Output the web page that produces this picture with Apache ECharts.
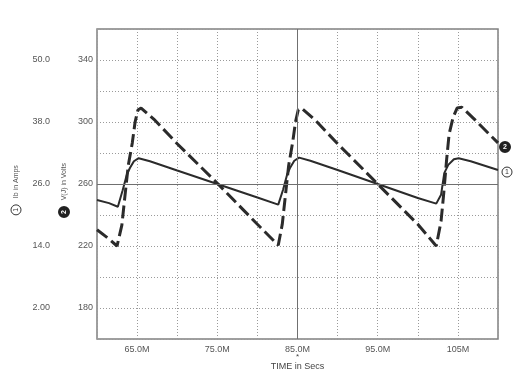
<!DOCTYPE html>
<html>
<head>
<meta charset="utf-8">
<script src="https://cdn.jsdelivr.net/npm/echarts@6/dist/echarts.min.js"></script>
<style>
html,body{margin:0;padding:0;background:#fff;}
#chart{width:528px;height:375px;}
</style>
</head>
<body>
<div id="chart"></div>
<script>
// ---- data (time in M units) ----
const xMin = 60, xMax = 110, xStep = 5;
const xTickValues = [65, 75, 85, 95, 105];
const xTickLabels = ['65.0M', '75.0M', '85.0M', '95.0M', '105M'];

const ibMin = -4, ibMax = 56;
const ibTickValues = [2, 14, 26, 38, 50];
const ibTickLabels = ['2.00', '14.0', '26.0', '38.0', '50.0'];

const vMin = 160, vMax = 360;
const vTickValues = [180, 220, 260, 300, 340];
const vTickLabels = ['180', '220', '260', '300', '340'];

const ibTime = [60, 61.5, 62.6, 63.2, 63.7, 64.1, 64.6, 65.2, 66.6, 70, 75, 80, 82.6,
  83.2, 83.7, 84.1, 84.6, 85.2, 86.6, 90, 95, 100, 102.3, 102.9, 103.3, 103.8, 104.5, 105.1, 106.6, 110];
const ibValues = [22.9, 22.3, 21.6, 24.8, 27.7, 29.1, 30.4, 31.0, 30.4, 28.6, 26.0, 23.4, 22.0,
  24.9, 27.8, 29.2, 30.5, 31.1, 30.5, 28.7, 26.0, 23.3, 22.2, 23.9, 28.1, 29.7, 30.8, 31.0, 30.4, 28.7];

const vTime = [60, 61.5, 62.5, 63.1, 63.5, 63.9, 64.4, 64.75, 65.1, 65.5, 67.25, 70, 75, 80, 82.6,
  83.1, 83.5, 83.9, 84.4, 84.75, 85.1, 85.5, 87.25, 90, 95, 100, 102.3,
  102.9, 103.2, 103.6, 103.9, 104.4, 104.9, 105.5, 107.2, 110];
const vValues = [230.5, 224.5, 220, 233.5, 253, 272, 286.5, 300, 307.7, 309, 301, 286, 260.5, 234, 220.5,
  234, 253, 272, 287, 300, 308, 309, 301, 286, 260, 234, 220,
  236, 252, 276, 292, 303, 309, 309.5, 301, 286.5];

const ink = '#2b2b2b';
const FF = 'Liberation Sans, Arial, sans-serif';
const labelFont = { fontFamily: FF, fontSize: 9, color: '#555' };

function pick(values, labels) {
  return function (v) {
    for (let i = 0; i < values.length; i++) {
      if (Math.abs(values[i] - v) < 1e-6) return labels[i];
    }
    return '';
  };
}

const circleOpen = { width: 10, height: 10, borderColor: '#333', borderWidth: 1, borderRadius: 6,
  align: 'center', fontSize: 7, color: '#333', fontFamily: FF };
const circleFilled = { width: 10, height: 10, backgroundColor: '#222', borderColor: '#222', borderWidth: 1,
  borderRadius: 6, align: 'center', fontSize: 7, color: '#fff', fontWeight: 'bold', fontFamily: FF };

const chart = echarts.init(document.getElementById('chart'), null, { renderer: 'canvas' });
chart.setOption({
  animation: false,
  backgroundColor: '#fff',
  grid: { left: 97, right: 30, top: 29, bottom: 36, outerBoundsMode: 'none', containLabel: false,
    show: true, borderColor: '#808080', borderWidth: 1.5, backgroundColor: 'transparent' },
  xAxis: {
    type: 'value', min: xMin, max: xMax, interval: xStep,
    axisLine: { show: false }, axisTick: { show: false },
    splitLine: { show: true, lineStyle: { color: '#9a9a9a', type: [1, 2], width: 1 } },
    axisLabel: Object.assign({ margin: 6, interval: 0, formatter: pick(xTickValues, xTickLabels) }, labelFont),
    name: '{s|*}\n{t|TIME in Secs}', nameLocation: 'middle', nameGap: 14, nameMoveOverlap: false,
    nameTextStyle: { rich: {
      s: { fontSize: 8, color: '#444', lineHeight: 8, fontFamily: FF },
      t: { fontSize: 9, color: '#444', lineHeight: 11, fontFamily: FF } } }
  },
  yAxis: [
    {
      type: 'value', min: ibMin, max: ibMax, interval: 2, position: 'left', offset: 39,
      axisLine: { show: false }, axisTick: { show: false }, splitLine: { show: false },
      axisLabel: Object.assign({ margin: 8, interval: 0, formatter: pick(ibTickValues, ibTickLabels) }, labelFont),
      name: '{c|1}  {t|Ib in Amps}{sp|}', nameLocation: 'middle', nameRotate: 90, nameGap: 36, nameMoveOverlap: false,
      nameTextStyle: { rich: { c: circleOpen,
        t: { fontSize: 7, color: '#555', fontFamily: FF },
        sp: { width: 12 } } }
    },
    {
      type: 'value', min: vMin, max: vMax, interval: 20, position: 'left', offset: 0,
      axisLine: { show: false }, axisTick: { show: false },
      splitLine: { show: true, lineStyle: { color: '#9a9a9a', type: [1, 2], width: 1 } },
      axisLabel: Object.assign({ margin: 4, interval: 0, formatter: pick(vTickValues, vTickLabels) }, labelFont),
      name: '{c|2}  {t|V(J) in Volts}{sp|}', nameLocation: 'middle', nameRotate: 90, nameGap: 27, nameMoveOverlap: false,
      nameTextStyle: { rich: { c: circleFilled,
        t: { fontSize: 7, color: '#555', fontFamily: FF },
        sp: { width: 12 } } }
    }
  ],
  series: [
    {
      name: 'Ib', type: 'line', xAxisIndex: 0, yAxisIndex: 0, showSymbol: false, smooth: false,
      data: ibTime.map((t, i) => [t, ibValues[i]]),
      lineStyle: { color: ink, width: 2 },
      endLabel: { show: true, distance: 4, offset: [0, 2], formatter: '{c|1}', rich: { c: circleOpen } },
      markLine: {
        silent: true, symbol: 'none', label: { show: false },
        lineStyle: { color: '#707070', type: 'solid', width: 1 },
        data: [{ yAxis: 26 }, { xAxis: 85 }]
      },
      z: 3
    },
    {
      name: 'V', type: 'line', xAxisIndex: 0, yAxisIndex: 1, showSymbol: false, smooth: false,
      data: vTime.map((t, i) => [t, vValues[i]]),
      lineStyle: { color: ink, width: 3, type: [13, 5] },
      endLabel: { show: true, distance: 2, offset: [0, 4], formatter: '{c|2}', rich: { c: circleFilled } },
      z: 3
    }
  ]
});
</script>
</body>
</html>
